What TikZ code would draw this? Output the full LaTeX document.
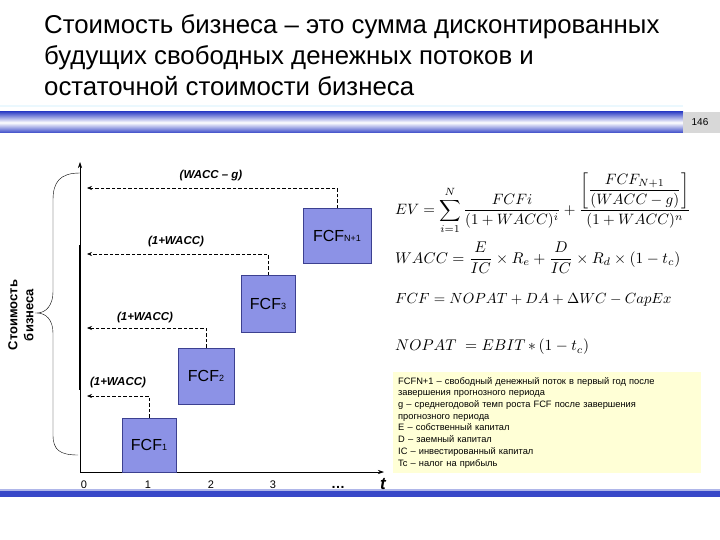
\documentclass[tikz,border=0pt]{standalone}
\usepackage{amsmath, amssymb}
\usepackage{fontspec}
\setmainfont{Liberation Sans}
\usetikzlibrary{arrows.meta, positioning, calc}

\definecolor{boxblue}{HTML}{8C92E6}
\definecolor{boxedge}{HTML}{3C4090}
\definecolor{barblue}{HTML}{3848C8}
\definecolor{legendyellow}{HTML}{FFFFD6}
\definecolor{numgray}{HTML}{D8D8D8}

\begin{document}
\begin{tikzpicture}[
  x=1pt, y=-1pt,
  fcf/.style={draw=boxedge, fill=boxblue, inner sep=0pt},
  dasharr/.style={-{Stealth[length=5pt,width=4pt]}, dashed, semithick, dash pattern=on 3.5pt off 2pt},
  rate/.style={font=\fontsize{11.5}{13}\selectfont\bfseries\itshape},
  tick/.style={font=\fontsize{11}{13}\selectfont},
  formula/.style={anchor=west, inner sep=0pt}
]
  \useasboundingbox (0,0) rectangle (720,540);

  % title and header bar
  \node[anchor=north west, align=left, inner sep=0pt,
        font=\fontsize{25.8}{31}\selectfont] (title) at (44,14)
    {Стоимость бизнеса – это сумма дисконтированных\\
     будущих свободных денежных потоков и\\
     остаточной стоимости бизнеса};
  \draw[color=cyan!8, line width=1.5pt] (0,106) -- (683,106);
  \shade[top color=barblue, bottom color=barblue, middle color=white] (0,112) rectangle (683,133);
  \fill[numgray] (683,112) rectangle (720,133);
  \node[font=\fontsize{10}{12}\selectfont] (pagenum) at (700,122) {146};
  \fill[barblue] (0,490) rectangle (720,497);
  \fill[barblue!40] (0,489) rectangle (720,490.5);

  % axes
  \coordinate (o) at (80,472);
  \coordinate (ytop) at (80,162);
  \coordinate (xend) at (384,472);
  \draw[semithick, -{Stealth[length=6pt,width=4pt]}] (o) -- (ytop);
  \draw[line width=1.6pt] (80,245) -- (80,390);
  \draw[semithick, -{Stealth[length=6pt,width=4pt]}] (o) -- (xend);

  \node[tick] (t0) at (84,485) {0};
  \node[tick] (t1) at (148,485) {1};
  \node[tick] (t2) at (211,485) {2};
  \node[tick] (t3) at (273,485) {3};
  \node[tick, font=\fontsize{14}{14}\selectfont\bfseries] (tdots) at (338,487) {\dots};
  \node[font=\fontsize{17}{17}\selectfont\bfseries\itshape] (tlab) at (383,484) {t};

  % cash flow boxes
  \node[fcf, minimum width=54pt, minimum height=54pt] (f1) at (149,445)
    {\fontsize{16}{16}\selectfont FCF\fontsize{9}{9}\selectfont 1};
  \node[fcf, minimum width=56pt, minimum height=56pt] (f2) at (206,376)
    {\fontsize{16}{16}\selectfont FCF\fontsize{9}{9}\selectfont 2};
  \node[fcf, minimum width=54pt, minimum height=57pt] (f3) at (268,304)
    {\fontsize{16}{16}\selectfont FCF\fontsize{9}{9}\selectfont 3};
  \node[fcf, minimum width=68pt, minimum height=55pt] (fn) at (337,236)
    {\fontsize{16}{16}\selectfont FCF\fontsize{9}{9}\selectfont N+1};

  % discounting arrows
  \coordinate (a1) at (87,396);
  \coordinate (a2) at (87,328);
  \coordinate (a3) at (87,254);
  \coordinate (an) at (87,188);
  \draw[dasharr] (f1.north) |- (a1);
  \draw[dasharr] (f2.north) |- (a2);
  \draw[dasharr] (f3.north) |- (a3);
  \draw[dasharr] (fn.north) |- (an);
  \node[rate] (r1) at (118,383) {(1+WACC)};
  \node[rate] (r2) at (145,318) {(1+WACC)};
  \node[rate] (r3) at (176,242) {(1+WACC)};
  \node[rate] (rn) at (211,176) {(WACC – g)};

  % brace with label
  \draw[thin] (80,173) .. controls (60,173) and (53,182) .. (53,200) -- (53,292)
    .. controls (53,305) and (46,313) .. (37,313)
    .. controls (46,313) and (53,320) .. (53,333) -- (53,435)
    .. controls (53,450) and (60,455) .. (78,455);
  \node[rotate=90, align=center, font=\fontsize{13}{16}\selectfont\bfseries] (ev) at (21,315)
    {Стоимость\\бизнеса};

  % formulas
  \node[formula] (fev) at (395,203) {\scalebox{1.5}{$\displaystyle EV=\sum_{i=1}^{N}\frac{FCFi}{(1+WACC)^i}+\frac{\left[\dfrac{FCF_{N+1}}{(WACC-g)}\right]}{(1+WACC)^n}$}};
  \node[formula] (fwacc) at (395,258) {\scalebox{1.55}{$\displaystyle WACC=\frac{E}{IC}\times R_e+\frac{D}{IC}\times R_d\times(1-t_c)$}};
  \node[formula] (ffcf) at (395,300) {\scalebox{1.47}{$FCF=NOPAT+DA+\Delta WC-CapEx$}};
  \node[formula] (fnopat) at (395,347) {\scalebox{1.55}{$NOPAT\;=EBIT\,{*}\,(1-t_c)$}};

  % legend
  \node[anchor=north west, fill=legendyellow, inner xsep=5pt, inner ysep=5pt,
        text width=298pt, minimum height=100pt, align=left,
        font=\fontsize{9.3}{11.7}\selectfont] (legend) at (393,372)
    {FCFN+1 – свободный денежный поток в первый год после\\
     завершения прогнозного периода\\
     g – среднегодовой темп роста FCF после завершения\\
     прогнозного периода\\
     E – собственный капитал\\
     D – заемный капитал\\
     IC – инвестированный капитал\\
     Tc – налог на прибыль};
\end{tikzpicture}
\end{document}
